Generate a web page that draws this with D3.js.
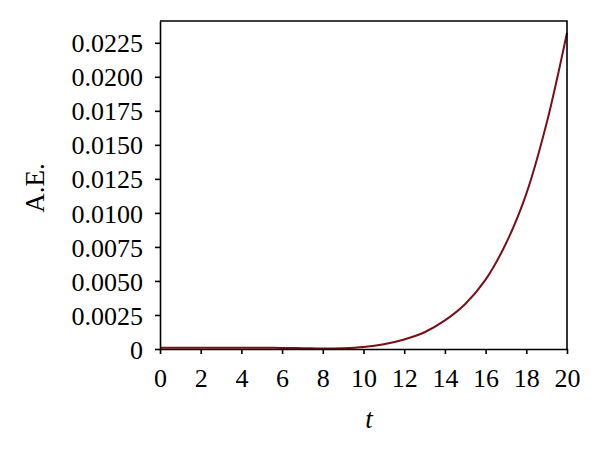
<!DOCTYPE html>
<meta charset="utf-8">
<style>
    body { margin: 0; background: #fff; }
    text { font-family: "Liberation Serif", "DejaVu Serif", serif; fill: #000; }
    .axis path, .axis line { stroke: #000; stroke-width: 1.6px; }
    .frame { fill: none; stroke: #000; stroke-width: 1.6px; }
</style>

<svg width="600" height="458"></svg>

<script src="https://cdn.jsdelivr.net/npm/d3@7/dist/d3.min.js"></script>
<script>
    // values
    var times = [0, 1, 2, 3, 4, 5, 6, 7, 8, 9, 10, 11, 12, 13, 14, 15, 16, 17, 18, 19, 20];
    var errors = [0.00010, 0.00010, 0.00010, 0.00010, 0.00010, 0.00009, 0.00008, 0.00006, 0.00003,
        0.00006, 0.00015, 0.00035, 0.00070, 0.00123, 0.00210, 0.00331, 0.00510, 0.00775,
        0.01140, 0.01660, 0.02324];
    var xTicks = [0, 2, 4, 6, 8, 10, 12, 14, 16, 18, 20];
    var yTicks = [0, 0.0025, 0.005, 0.0075, 0.01, 0.0125, 0.015, 0.0175, 0.02, 0.0225];

    (function () {
        var svg = d3.select("svg"),
            left = 160, right = 567, top = 21, bottom = 349;

        var x = d3.scaleLinear().domain([0, 20]).range([left, right]),
            y = d3.scaleLinear().domain([0, 0.0241]).range([bottom, top]);

        var pts = times.map(function (t, i) { return [t, errors[i]]; });

        svg.append("path")
            .datum(pts)
            .attr("fill", "none")
            .attr("stroke", "#7a0f18")
            .attr("stroke-width", 2)
            .attr("d", d3.line()
                .x(function (d) { return x(d[0]); })
                .y(function (d) { return y(d[1]); })
                .curve(d3.curveCatmullRom));

        // top and right border
        svg.append("path")
            .attr("class", "frame")
            .attr("d", "M" + left + "," + top + "H" + right + "V" + bottom);

        var xAxis = svg.append("g")
            .attr("class", "axis")
            .attr("transform", "translate(0," + bottom + ")")
            .call(d3.axisBottom(x).tickValues(xTicks).tickSize(5).tickSizeOuter(0));
        xAxis.selectAll("text")
            .attr("dy", null)
            .attr("y", 38)
            .style("font-size", "26px");

        var yAxis = svg.append("g")
            .attr("class", "axis")
            .attr("transform", "translate(" + left + ",0)")
            .call(d3.axisLeft(y).tickValues(yTicks).tickSize(5).tickSizeOuter(0)
                .tickFormat(function (d) { return d === 0 ? "0" : d3.format(".4f")(d); }));
        yAxis.selectAll("text")
            .attr("x", -17)
            .attr("dy", "0.35em")
            .style("font-size", "26px");

        svg.selectAll(".axis text").attr("font-family", null);

        svg.append("text")
            .attr("transform", "translate(44,188) rotate(-90)")
            .attr("text-anchor", "middle")
            .style("font-size", "27px")
            .text("A.E.");

        svg.append("text")
            .attr("x", 369)
            .attr("y", 428)
            .attr("text-anchor", "middle")
            .style("font-size", "27px")
            .style("font-style", "italic")
            .text("t");
    })();
</script>
